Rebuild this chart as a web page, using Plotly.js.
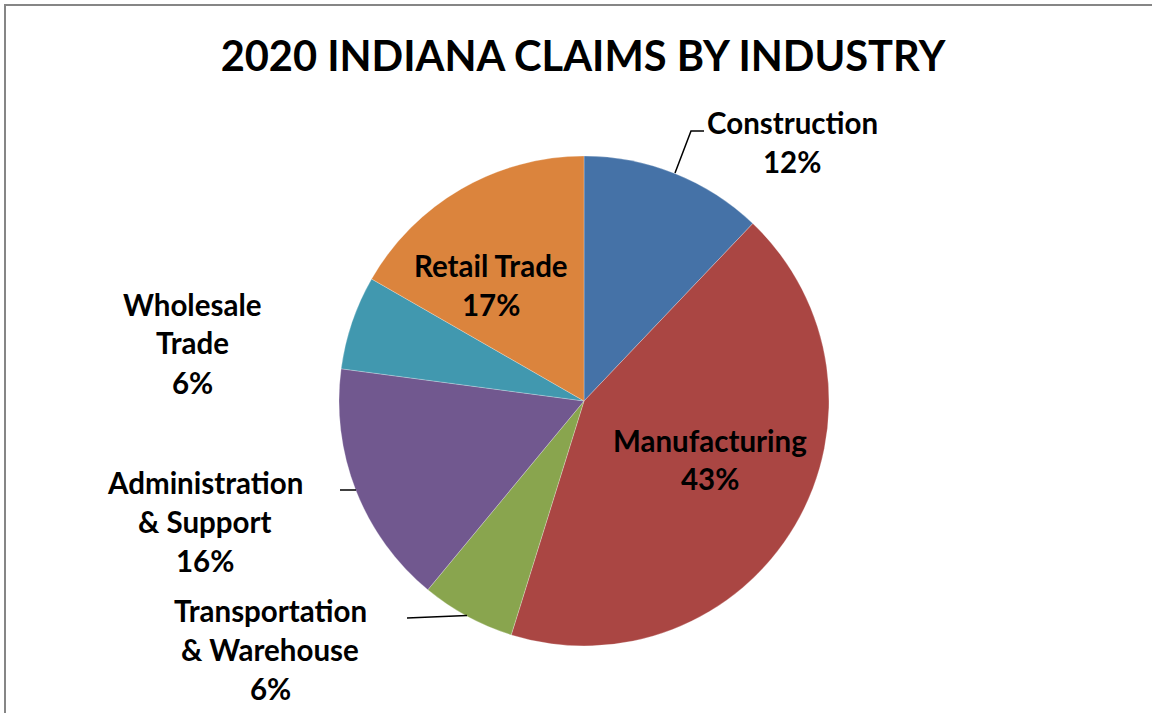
<!DOCTYPE html>
<html>
<head>
<meta charset="utf-8">
<script src="https://cdn.plot.ly/plotly-3.0.1.min.js"></script>
<style>
html,body{margin:0;padding:0;background:#fff;}
#chart{width:1152px;height:713px;}
</style>
</head>
<body>
<div id="chart"></div>
<script>
// ---- data ----
var industries = ["Construction", "Manufacturing", "Transportation & Warehouse", "Administration & Support", "Wholesale Trade", "Retail Trade"];
var shares = [12.1, 42.7, 6.2, 16.1, 6.2, 16.7];
var colors = ["#4572A7", "#AA4643", "#89A54E", "#71588F", "#4198AF", "#DB843D"];
var labelLines = [["Construction"], ["Manufacturing"], ["Transportation", "& Warehouse"], ["Administration", "& Support"], ["Wholesale", "Trade"], ["Retail Trade"]];
var chartTitle = "2020 INDIANA CLAIMS BY INDUSTRY";

// ---- layout helpers (pixel -> paper) ----
var W = 1152, H = 713;
function px(x){ return x / W; }
function py(y){ return 1 - y / H; }

var FONT = "Lato, 'Liberation Sans', sans-serif";
var total = shares.reduce(function(a,b){return a+b;}, 0);

// label anchor (x center, y of first line) and line spacing
var labelPos = [
  {x: 792, y: 122},
  {x: 710, y: 440},
  {x: 270, y: 610},
  {x: 205, y: 482},
  {x: 192, y: 304},
  {x: 491, y: 265}
];
var lineGap = 39;
var annotations = [];
industries.forEach(function(name, i){
  var lines = labelLines[i].concat([Math.round(shares[i] / total * 100) + "%"]);
  lines.forEach(function(t, k){
    annotations.push({
      text: t, showarrow: false, xref: "paper", yref: "paper",
      x: px(labelPos[i].x), y: py(labelPos[i].y + k * lineGap),
      xanchor: "center", yanchor: "middle",
      font: {family: FONT, size: 29.5, color: "#000", weight: "bold"}
    });
  });
});

var cx = 584, cy = 401, R = 245;

var shapes = [
  // chart frame
  {type: "rect", xref: "paper", yref: "paper", x0: px(5), x1: 1.05, y0: -0.05, y1: py(5),
   line: {color: "#868686", width: 2}, fillcolor: "rgba(0,0,0,0)"},
  // leader lines
  {type: "path", xref: "paper", yref: "paper",
   path: "M " + px(675) + "," + py(173) + " L " + px(691) + "," + py(131) + " L " + px(704) + "," + py(131),
   line: {color: "#000", width: 1.5}},
  {type: "line", xref: "paper", yref: "paper", x0: px(340), y0: py(490), x1: px(356), y1: py(490),
   line: {color: "#000", width: 1.5}},
  {type: "line", xref: "paper", yref: "paper", x0: px(407), y0: py(618), x1: px(467), y1: py(615.5),
   line: {color: "#000", width: 1.5}}
];

var trace = {
  type: "pie",
  labels: industries,
  values: shares,
  sort: false,
  direction: "clockwise",
  rotation: 0,
  marker: {colors: colors, line: {color: "rgba(255,255,255,0.5)", width: 0.5}},
  textinfo: "none",
  hoverinfo: "label+percent",
  domain: {x: [px(cx - R), px(cx + R)], y: [py(cy + R), py(cy - R)]}
};

var layout = {
  width: W, height: H,
  margin: {l: 0, r: 0, t: 0, b: 0},
  paper_bgcolor: "#fff",
  showlegend: false,
  title: {
    text: chartTitle, xref: "paper", yref: "container",
    x: px(583), y: py(56), xanchor: "center", yanchor: "middle",
    font: {family: FONT, size: 41.6, color: "#000", weight: "bold"}
  },
  annotations: annotations,
  shapes: shapes
};

Plotly.newPlot("chart", [trace], layout, {displayModeBar: false, staticPlot: true});
</script>
</body>
</html>
